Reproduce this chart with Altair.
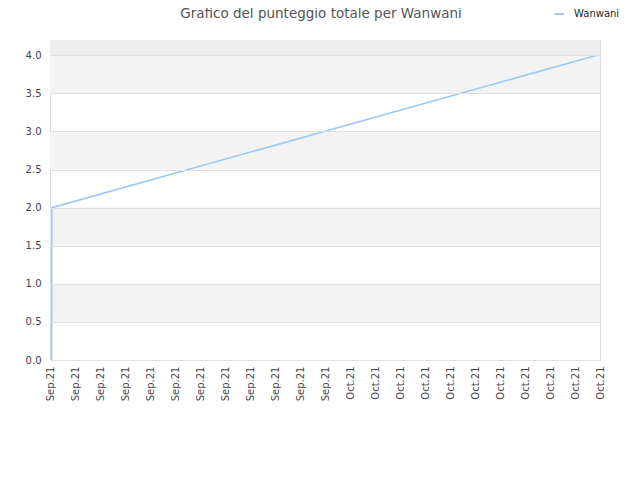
import altair as alt
import pandas as pd

# series
dates = ["2021-09-08T03:00:00", "2021-09-08T03:20:00", "2021-10-21T18:00:00"]
scores = [0.0, 2.0, 4.0]
series_name = "Wanwani"

# x tick labels (every 2 days)
tick_dates = pd.date_range("2021-09-08", "2021-10-22", freq="2D").strftime("%Y-%m-%dT00:00:00").tolist()

# y ticks / bands
y_ticks = [0.0, 0.5, 1.0, 1.5, 2.0, 2.5, 3.0, 3.5, 4.0]
band_starts = [0.5, 1.5, 2.5, 3.5]
y_max = 4.2

df = pd.DataFrame({"date": dates, "score": scores, "serie": [series_name] * len(dates)})
bands = pd.DataFrame({"y": band_starts, "y2": [b + 0.5 for b in band_starts]})
top_band = pd.DataFrame({"y": [y_ticks[-1]], "y2": [y_max]})

font = "DejaVu Sans"
yscale = alt.Scale(domain=[0, y_max], nice=False, zero=True)
xscale = alt.Scale(domain=[tick_dates[0], tick_dates[-1]], nice=False)

y_axis = alt.Axis(
    title=None,
    values=y_ticks,
    format=".1f",
    labelFont=font,
    labelFontSize=10,
    labelColor="#444444",
    labelPadding=9,
    labelOverlap=False,
    labelFlush=False,
    ticks=False,
    domain=False,
    grid=True,
    gridColor="#e0e0e0",
    zindex=1,
)

band_layer = alt.Chart(bands).mark_rect(color="#f3f3f3").encode(
    y=alt.Y("y:Q", scale=yscale, axis=y_axis),
    y2="y2:Q",
)
top_layer = alt.Chart(top_band).mark_rect(color="#ededed").encode(
    y=alt.Y("y:Q", scale=yscale, axis=y_axis),
    y2="y2:Q",
)

line = alt.Chart(df).mark_line(strokeWidth=1.6).encode(
    x=alt.X(
        "date:T",
        scale=xscale,
        axis=alt.Axis(
            title=None,
            values=tick_dates,
            format="%b.%y",
            labelAngle=270,
            labelFont=font,
            labelFontSize=10,
            labelColor="#444444",
            labelPadding=6,
            ticks=False,
            domain=False,
            grid=False,
            labelOverlap=False,
        ),
    ),
    y=alt.Y("score:Q", scale=yscale, axis=y_axis),
    color=alt.Color(
        "serie:N",
        scale=alt.Scale(range=["#99c8f8"]),
        legend=alt.Legend(
            title=None,
            orient="none",
            legendX=503,
            legendY=-32,
            symbolType="stroke",
            symbolStrokeWidth=2,
            symbolSize=90,
            labelOffset=9,
            labelFont=font,
            labelFontSize=10,
            labelColor="#222222",
        ),
    ),
)

chart = alt.layer(band_layer, top_layer, line).properties(
    width=550,
    height=320,
    autosize=alt.AutoSizeParams(type="none"),
    padding={"left": 42, "top": 32, "right": 32, "bottom": 112},
    title=alt.Title(
        "Grafico del punteggio totale per Wanwani",
        font=font,
        fontSize=13.5,
        fontWeight="normal",
        color="#555555",
        anchor="middle",
        frame="group",
        offset=-12,
        dx=-4,
    ),
).configure_view(stroke="#d9d9d9", strokeWidth=1).configure(background="white")

chart.save("out.html", embed_options={"renderer": "svg", "actions": False})
